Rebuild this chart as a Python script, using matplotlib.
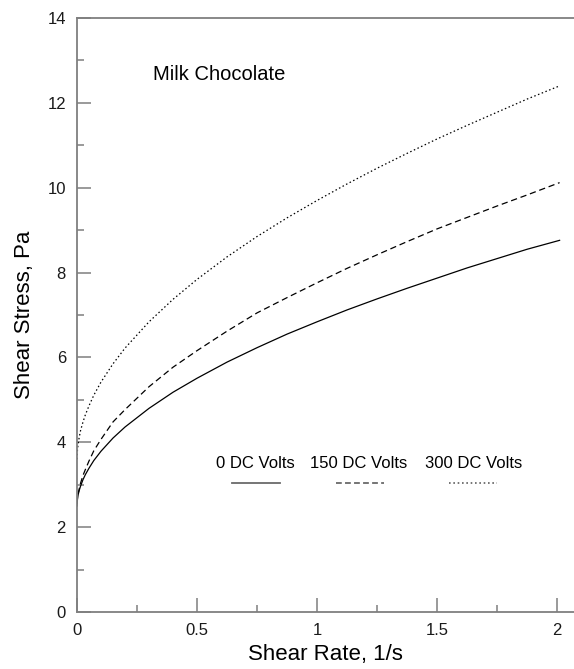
import matplotlib
matplotlib.use("Agg")
import matplotlib.pyplot as plt
from matplotlib.ticker import MultipleLocator, FormatStrFormatter

plt.rcParams['font.family'] = ['Liberation Sans', 'DejaVu Sans']

shear_rate = [0.0, 0.002, 0.005, 0.01, 0.015, 0.025, 0.035, 0.05, 0.07, 0.1, 0.15, 0.2, 0.3, 0.4,
              0.5, 0.625, 0.75, 0.875, 1.0, 1.125, 1.25, 1.375, 1.5, 1.625, 1.75, 1.875, 2.01]
stress_0v = [2.5, 2.66, 2.77, 2.88, 2.97, 3.12, 3.24, 3.39, 3.57, 3.79, 4.10, 4.36, 4.80, 5.18,
             5.51, 5.89, 6.23, 6.55, 6.84, 7.12, 7.38, 7.63, 7.87, 8.11, 8.33, 8.55, 8.76]
stress_150v = [2.55, 2.70, 2.80, 2.92, 3.04, 3.22, 3.36, 3.56, 3.80, 4.07, 4.48, 4.77, 5.31, 5.77,
               6.16, 6.62, 7.05, 7.41, 7.76, 8.10, 8.42, 8.73, 9.03, 9.30, 9.57, 9.83, 10.12]
stress_300v = [3.6, 3.83, 3.98, 4.14, 4.28, 4.48, 4.65, 4.86, 5.11, 5.42, 5.85, 6.22, 6.84, 7.37,
               7.84, 8.37, 8.85, 9.29, 9.70, 10.09, 10.46, 10.81, 11.15, 11.47, 11.78, 12.09, 12.40]

series_labels = ['0 DC Volts', '150 DC Volts', '300 DC Volts']
title_text = 'Milk Chocolate'
x_label = 'Shear Rate, 1/s'
y_label = 'Shear Stress, Pa'

fig = plt.figure(figsize=(5.74, 6.69), dpi=100)
ax = fig.add_axes([77/574, 1 - 612/669, 1 - 77/574, (612 - 18)/669])

curve_styles = [dict(ls='-'), dict(ls=(0, (5, 3))), dict(ls=(0, (1.2, 2)))]
legend_styles = [dict(ls='-'), dict(ls=(0, (3.2, 1.8))), dict(ls=(0, (0.9, 1.5)))]
for ys, st in zip([stress_0v, stress_150v, stress_300v], curve_styles):
    ax.plot(shear_rate, ys, color='black', lw=0.9, solid_joinstyle='round', **st)

ax.set_xlim(0, 2.07)
ax.set_ylim(0, 14)

spine_c = '#7f7f7f'
for s in ['left', 'bottom', 'top']:
    ax.spines[s].set_color(spine_c)
    ax.spines[s].set_linewidth(1.3)
ax.spines['right'].set_visible(False)

ax.xaxis.set_major_locator(MultipleLocator(0.5))
ax.xaxis.set_minor_locator(MultipleLocator(0.25))
ax.yaxis.set_major_locator(MultipleLocator(2))
ax.yaxis.set_minor_locator(MultipleLocator(1))
ax.xaxis.set_major_formatter(FormatStrFormatter('%g'))
ax.yaxis.set_major_formatter(FormatStrFormatter('%g'))
ax.tick_params(which='both', direction='in', color=spine_c, width=1.1,
               top=False, right=False, labelsize=12, labelcolor='#1a1a1a')
ax.tick_params(which='major', length=10, pad=8)
ax.tick_params(which='minor', length=5)

ax.set_xlabel(x_label, fontsize=16, labelpad=4)
ax.set_ylabel(y_label, fontsize=16, labelpad=9)

ax.text(0.317, 12.67, title_text, fontsize=14.5, ha='left', va='center')

# legend drawn manually
leg_text_x = [0.742, 1.175, 1.65]
leg_line_x = [(0.646, 0.846), (1.079, 1.279), (1.55, 1.75)]
for lbl, tx, (x0, x1), st in zip(series_labels, leg_text_x, leg_line_x, legend_styles):
    ax.text(tx, 3.49, lbl, fontsize=12, ha='center', va='center')
    ax.plot([x0, x1], [3.04, 3.04], color='#6a6a6a', lw=1.3, **st)

fig.savefig('out.png', dpi=100)
